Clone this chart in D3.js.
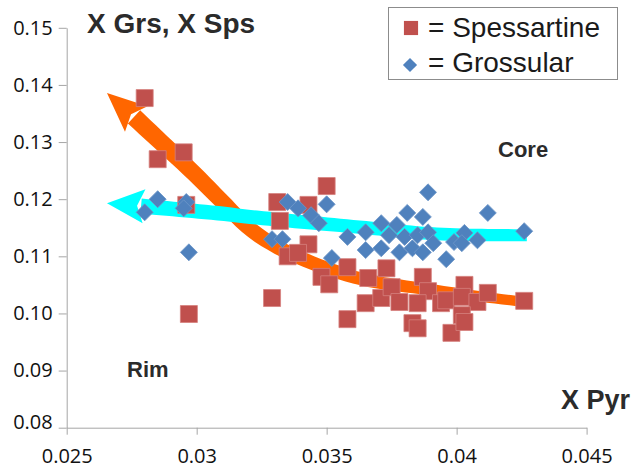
<!DOCTYPE html>
<html>
<head>
<meta charset="utf-8">
<script src="https://cdn.jsdelivr.net/npm/d3@7"></script>
<style>
  body { margin: 0; background: #fff; }
</style>
</head>
<body>
<div id="chart"></div>
<script>
// X Pyr vs X Grs / X Sps
var spsX = [0.0280, 0.0285, 0.0295, 0.0296, 0.0297, 0.0329, 0.0350, 0.0331, 0.0332, 0.0343,
            0.0343, 0.0335, 0.0339, 0.0348, 0.0351, 0.0358, 0.0358, 0.0366, 0.0373, 0.0365,
            0.0371, 0.0375, 0.0378, 0.0387, 0.0389, 0.0385, 0.0383, 0.0385, 0.0394, 0.0396,
            0.0398, 0.0403, 0.0402, 0.0408, 0.0402, 0.0403, 0.0412, 0.0426];
var spsY = [0.1377, 0.1270, 0.1282, 0.1190, 0.0999, 0.1027, 0.1223, 0.1195, 0.1162, 0.1190,
            0.1121, 0.1100, 0.1106, 0.1064, 0.1051, 0.1081, 0.0990, 0.1062, 0.1079, 0.1018,
            0.1027, 0.1046, 0.1020, 0.1064, 0.1039, 0.1018, 0.0983, 0.0974, 0.1018, 0.1023,
            0.0966, 0.1050, 0.1029, 0.1020, 0.0997, 0.0985, 0.1036, 0.1022];

var grsX = [0.0280, 0.0285, 0.0296, 0.0295, 0.0297, 0.0329, 0.0333, 0.0335, 0.0339, 0.0344,
            0.0347, 0.0350, 0.0352, 0.0358, 0.0365, 0.0371, 0.0377, 0.0381, 0.0387, 0.0389,
            0.0374, 0.0380, 0.0385, 0.0389, 0.0391, 0.0365, 0.0371, 0.0378, 0.0383, 0.0387,
            0.0396, 0.0399, 0.0403, 0.0402, 0.0408, 0.0412, 0.0426];
var grsY = [0.1177, 0.1200, 0.1195, 0.1184, 0.1107, 0.1130, 0.1130, 0.1195, 0.1184, 0.1172,
            0.1158, 0.1191, 0.1097, 0.1134, 0.1142, 0.1158, 0.1155, 0.1176, 0.1169, 0.1212,
            0.1137, 0.1134, 0.1137, 0.1142, 0.1123, 0.1111, 0.1114, 0.1107, 0.1114, 0.1107,
            0.1095, 0.1125, 0.1141, 0.1123, 0.1128, 0.1176, 0.1144];

// hand drawn trend arrows (tail -> head base), plus the tip
var spsArrow = [[0.04263, 0.1020], [0.04051, 0.1032], [0.03859, 0.1044], [0.03667, 0.1057],
                [0.03551, 0.1071], [0.03436, 0.1090], [0.03320, 0.1114], [0.03205, 0.1148],
                [0.03109, 0.1191], [0.02986, 0.1247], [0.02867, 0.1298], [0.02759, 0.1344]];
var spsTip = [0.02655, 0.1386];
var grsArrow = [[0.04270, 0.1137], [0.03936, 0.1139], [0.03628, 0.1151], [0.03205, 0.1169],
                [0.03090, 0.1175], [0.02786, 0.1188]];
var grsTip = [0.02655, 0.1193];

var xTicks = [0.025, 0.03, 0.035, 0.04, 0.045];
var xTickLabels = ["0.025", "0.03", "0.035", "0.04", "0.045"];
var yTicks = [0.08, 0.09, 0.10, 0.11, 0.12, 0.13, 0.14, 0.15];
var yTickLabels = ["0.08", "0.09", "0.10", "0.11", "0.12", "0.13", "0.14", "0.15"];

var seriesNames = ["= Spessartine", "= Grossular"];

var width = 631, height = 471;
var svg = d3.select("#chart").append("svg")
  .attr("width", width)
  .attr("height", height);

var x = d3.scaleLinear().domain([0.025, 0.045]).range([66.7, 586.6]);
var y = d3.scaleLinear().domain([0.08, 0.15]).range([427.7, 27.8]);

// axes
var xAxis = svg.append("g")
  .attr("transform", "translate(0," + y(0.08) + ")")
  .call(d3.axisBottom(x).tickValues(xTicks).tickSize(7).tickSizeOuter(0).tickPadding(14)
    .tickFormat(function(d, i) { return xTickLabels[i]; }));
var yAxis = svg.append("g")
  .attr("transform", "translate(" + x(0.025) + ",0)")
  .call(d3.axisLeft(y).tickValues(yTicks).tickSize(8).tickSizeOuter(0).tickPadding(6)
    .tickFormat(function(d, i) { return yTickLabels[i]; }));

[xAxis, yAxis].forEach(function(a) {
  a.select(".domain").attr("stroke", "#a6a6a6");
  a.selectAll(".tick line").attr("stroke", "#a6a6a6");
  a.selectAll(".tick text")
    .style("font-family", "'Open Sans', sans-serif")
    .style("font-size", "20px")
    .attr("fill", "#111");
});
// bottom label sits a little higher in the original
yAxis.selectAll(".tick text").filter(function(d) { return d === 0.08; }).attr("dy", "0.05em");

// arrows
function drawArrow(pts, tip, color, wTail, wHead, half) {
  var pp = pts.map(function(p) { return [x(p[0]), y(p[1])]; });
  var line = d3.line().curve(d3.curveCatmullRom);
  var tmp = svg.append("path").attr("d", line(pp)).attr("fill", "none");
  var node = tmp.node(), L = node.getTotalLength(), n = 60;
  var left = [], right = [];
  for (var i = 0; i <= n; i++) {
    var t = i / n;
    var p = node.getPointAtLength(L * t);
    var a = node.getPointAtLength(Math.max(0, L * t - 1));
    var b = node.getPointAtLength(Math.min(L, L * t + 1));
    var dx = b.x - a.x, dy = b.y - a.y, len = Math.sqrt(dx * dx + dy * dy) || 1;
    var w = (wTail + (wHead - wTail) * t) / 2;
    left.push([p.x - dy / len * w, p.y + dx / len * w]);
    right.push([p.x + dy / len * w, p.y - dx / len * w]);
  }
  tmp.remove();
  svg.append("path")
    .attr("d", d3.line()(left.concat(right.reverse())) + "Z")
    .attr("fill", color);

  var base = pp[pp.length - 1];
  var tp = [x(tip[0]), y(tip[1])];
  var ux = tp[0] - base[0], uy = tp[1] - base[1], ul = Math.sqrt(ux * ux + uy * uy);
  ux /= ul; uy /= ul;
  var nx = -uy, ny = ux;
  var head = [tp,
    [base[0] + nx * half - ux * 3, base[1] + ny * half - uy * 3],
    [base[0] + ux * 4, base[1] + uy * 4],
    [base[0] - nx * half - ux * 3, base[1] - ny * half - uy * 3]];
  svg.append("path")
    .attr("d", d3.line()(head) + "Z")
    .attr("fill", color);
}
drawArrow(spsArrow, spsTip, "#ff6600", 10, 18, 17);
drawArrow(grsArrow, grsTip, "#00ffff", 12, 15, 17);

// markers
var squareSym = d3.symbol().type(d3.symbolSquare).size(289);
var diamondSym = d3.symbol().type(d3.symbolSquare).size(144);

svg.append("g").selectAll("path")
  .data(spsX.map(function(v, i) { return [v, spsY[i]]; }))
  .enter().append("path")
    .attr("d", squareSym)
    .attr("transform", function(d) { return "translate(" + x(d[0]) + "," + y(d[1]) + ")"; })
    .attr("fill", "#c0504d")
    .attr("stroke", "#d6807e")
    .attr("stroke-width", 0.8);

svg.append("g").selectAll("path")
  .data(grsX.map(function(v, i) { return [v, grsY[i]]; }))
  .enter().append("path")
    .attr("d", diamondSym)
    .attr("transform", function(d) { return "translate(" + x(d[0]) + "," + y(d[1]) + ") rotate(45)"; })
    .attr("fill", "#4f81bd")
    .attr("stroke", "#6d96c8")
    .attr("stroke-width", 0.8);

// text labels
function label(txt, px, py, size, anchor) {
  svg.append("text")
    .attr("x", px).attr("y", py)
    .attr("text-anchor", anchor || "start")
    .style("font-family", "'Liberation Sans', Arial, sans-serif")
    .style("font-weight", "bold")
    .style("font-size", size + "px")
    .attr("fill", "#2b2b2b")
    .text(txt);
}
label("X Grs, X Sps", 87, 33, 28);
label("X Pyr", 630, 409, 27, "end");
label("Core", 498, 157, 22);
label("Rim", 127, 377, 22);

// legend
var lg = svg.append("g");
lg.append("rect")
  .attr("x", 388.5).attr("y", 7.5).attr("width", 229).attr("height", 72)
  .attr("fill", "#fff").attr("stroke", "#8c8c8c");
lg.append("path").attr("d", d3.symbol().type(d3.symbolSquare).size(200))
  .attr("transform", "translate(411,28)").attr("fill", "#c0504d");
lg.append("path").attr("d", d3.symbol().type(d3.symbolSquare).size(100))
  .attr("transform", "translate(410,65) rotate(45)").attr("fill", "#4f81bd");
lg.selectAll("text.lg")
  .data(seriesNames)
  .enter().append("text")
    .attr("class", "lg")
    .attr("x", 428)
    .attr("y", function(d, i) { return 37 + i * 35; })
    .style("font-family", "'Liberation Sans', Arial, sans-serif")
    .style("font-size", "28px")
    .attr("fill", "#1a1a1a")
    .text(function(d) { return d; });
</script>
</body>
</html>
